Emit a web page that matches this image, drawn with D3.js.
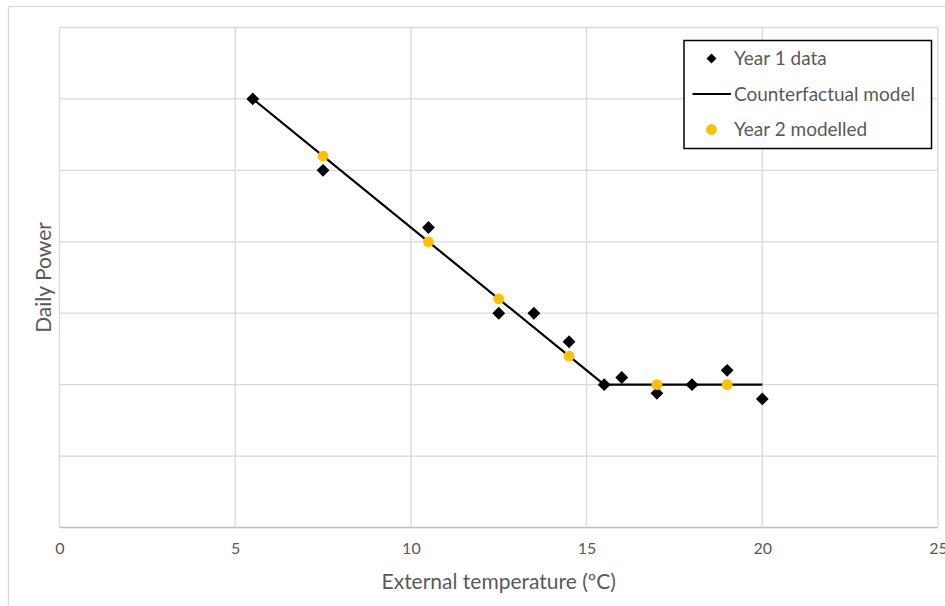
<!DOCTYPE html>
<html>
<head>
<meta charset="utf-8">
<script src="https://cdn.jsdelivr.net/npm/d3@7"></script>
<style>
  html, body { margin: 0; padding: 0; background: #fff; }
  svg { display: block; font-family: Lato, "Open Sans", sans-serif; }
</style>
</head>
<body>
<svg id="chart" width="945" height="606"></svg>
<script>
// Daily power vs. external temperature
const year1Temp  = [5.5, 7.5, 10.5, 12.5, 13.5, 14.5, 15.5, 16, 17, 18, 19, 20];
const year1Power = [6.0, 5.0, 4.2, 3.0, 3.0, 2.6, 2.0, 2.1, 1.88, 2.0, 2.2, 1.8];

const modelTemp  = [5.5, 15.5, 20];
const modelPower = [6.0, 2.0, 2.0];

const year2Temp  = [7.5, 10.5, 12.5, 14.5, 17, 19];
const year2Power = [5.2, 4.0, 3.2, 2.4, 2.0, 2.0];

const xTicks = [0, 5, 10, 15, 20, 25];
const yGrid  = [0, 1, 2, 3, 4, 5, 6, 7];

const legendLabels = ["Year 1 data", "Counterfactual model", "Year 2 modelled"];

const svg = d3.select("#chart");
const textColor = "#595959";
const gridColor = "#d9d9d9";

// chart-area frame
svg.append("rect")
  .attr("x", 8.5).attr("y", 6.5)
  .attr("width", 945).attr("height", 620)
  .attr("fill", "none").attr("stroke", gridColor).attr("stroke-width", 1.3);

const plot = { left: 59.5, right: 938, top: 27.5, bottom: 527.5 };
const x = d3.scaleLinear().domain([0, 25]).range([plot.left, plot.right]);
const y = d3.scaleLinear().domain([0, 7]).range([plot.bottom, plot.top]);

// horizontal grid
svg.append("g").selectAll("line").data(yGrid).join("line")
  .attr("x1", plot.left).attr("x2", plot.right)
  .attr("y1", d => y(d)).attr("y2", d => y(d))
  .attr("stroke", d => d === 0 ? "#bfbfbf" : gridColor)
  .attr("stroke-width", 1.3);

// vertical grid
svg.append("g").selectAll("line").data(xTicks).join("line")
  .attr("x1", d => x(d)).attr("x2", d => x(d))
  .attr("y1", plot.top).attr("y2", plot.bottom)
  .attr("stroke", gridColor).attr("stroke-width", 1.3);

// x tick labels
const xAxis = d3.axisBottom(x).tickValues(xTicks).tickSize(0).tickPadding(15);
const xg = svg.append("g").attr("transform", `translate(0,${plot.bottom})`).call(xAxis);
xg.select(".domain").remove();
xg.selectAll("text")
  .attr("fill", textColor)
  .style("font-size", "16px")
  .style("font-family", "Lato, 'Open Sans', sans-serif");

// axis titles
svg.append("text")
  .attr("x", (plot.left + plot.right) / 2).attr("y", 589)
  .attr("text-anchor", "middle")
  .attr("fill", textColor).style("font-size", "21px")
  .text("External temperature (ºC)");

svg.append("text")
  .attr("transform", `translate(51,${(plot.top + plot.bottom) / 2}) rotate(-90)`)
  .attr("text-anchor", "middle")
  .attr("fill", textColor).style("font-size", "21px")
  .text("Daily Power");

// counterfactual model line
const line = d3.line().x(d => x(d[0])).y(d => y(d[1]));
svg.append("path")
  .datum(d3.zip(modelTemp, modelPower))
  .attr("d", line)
  .attr("fill", "none").attr("stroke", "#000").attr("stroke-width", 2.2);

// year 1 diamonds
const diamond = d3.symbol().type(d3.symbolDiamond2).size(105);
svg.append("g").selectAll("path").data(d3.zip(year1Temp, year1Power)).join("path")
  .attr("d", diamond)
  .attr("transform", d => `translate(${x(d[0])},${y(d[1])})`)
  .attr("fill", "#000");

// year 2 modelled points
svg.append("g").selectAll("circle").data(d3.zip(year2Temp, year2Power)).join("circle")
  .attr("cx", d => x(d[0])).attr("cy", d => y(d[1]))
  .attr("r", 5.4)
  .attr("fill", "#ffc000");

// legend
const lg = svg.append("g");
lg.append("rect")
  .attr("x", 684).attr("y", 40.5).attr("width", 247.5).attr("height", 108)
  .attr("fill", "#fff").attr("stroke", "#000").attr("stroke-width", 1.5);
const rowY = [58.5, 94, 129.5];
lg.append("path")
  .attr("d", d3.symbol().type(d3.symbolDiamond2).size(64))
  .attr("transform", `translate(711.5,${rowY[0]})`).attr("fill", "#000");
lg.append("line")
  .attr("x1", 692.5).attr("x2", 731).attr("y1", rowY[1]).attr("y2", rowY[1])
  .attr("stroke", "#000").attr("stroke-width", 2.2);
lg.append("circle")
  .attr("cx", 711.5).attr("cy", rowY[2]).attr("r", 5.4).attr("fill", "#ffc000");
lg.selectAll("text.lab").data(legendLabels).join("text")
  .attr("class", "lab")
  .attr("x", 734).attr("y", (d, i) => rowY[i])
  .attr("dy", "0.35em")
  .attr("fill", textColor).style("font-size", "19px")
  .text(d => d);
</script>
</body>
</html>
